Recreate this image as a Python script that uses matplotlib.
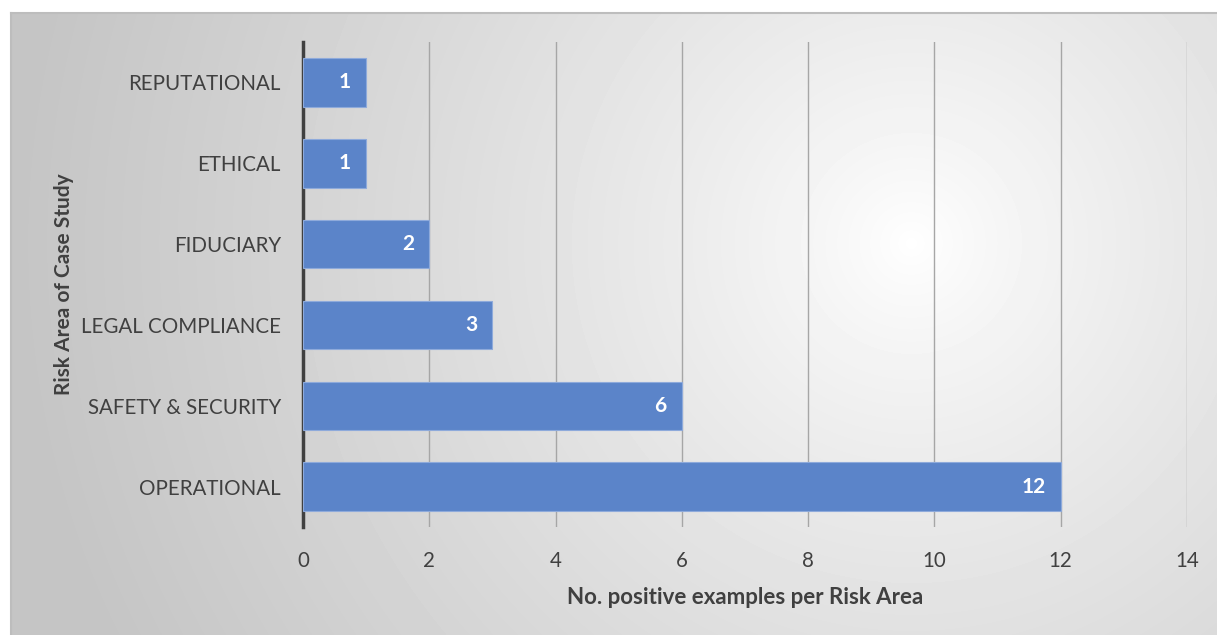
import numpy as np
import matplotlib
matplotlib.use("Agg")
import matplotlib.pyplot as plt

# data (bottom to top as drawn)
categories = ["OPERATIONAL", "SAFETY & SECURITY", "LEGAL COMPLIANCE",
              "FIDUCIARY", "ETHICAL", "REPUTATIONAL"]
counts = [12, 6, 3, 2, 1, 1]
x_ticks = [0, 2, 4, 6, 8, 10, 12, 14]

plt.rcParams['font.family'] = ['Lato', 'DejaVu Sans']
txt_color = '#404040'
bar_color = '#5b84c9'

W, H = 1217, 635
fig = plt.figure(figsize=(W / 100, H / 100), dpi=100)
fig.patch.set_facecolor('white')

# radial gradient panel behind the chart
px0, py0 = 11, 13
bg = fig.add_axes([px0 / W, 0, 1 - px0 / W, (H - py0) / H])
bg.set_zorder(0)
gw, gh = W - px0, H - py0
yy, xx = np.mgrid[0:gh, 0:gw]
cx, cy = 900, 230
dist = np.sqrt((xx - cx) ** 2 + (yy - cy) ** 2)
r = np.clip(dist / 900, 0, 1)
shade = 1.0 - 0.23 * r ** 0.8
bg.imshow(shade, cmap='gray', vmin=0, vmax=1, aspect='auto',
          extent=[0, gw, gh, 0], interpolation='bilinear')
bg.set_xlim(0, gw)
bg.set_ylim(gh, 0)
bg.set_xticks([])
bg.set_yticks([])
for side in ['right', 'bottom']:
    bg.spines[side].set_visible(False)
for side in ['top', 'left']:
    bg.spines[side].set_color('#bdbdbd')
    bg.spines[side].set_linewidth(1.5)

ax = fig.add_axes([303 / W, 1 - 527 / H, (1187 - 303) / W, (527 - 42) / H])
ax.set_zorder(1)
ax.set_facecolor('none')

y = np.arange(len(categories))
bars = ax.barh(y, counts, height=0.6, color=bar_color,
               edgecolor='#8eaadb', linewidth=0.8, zorder=3)
for b, v in zip(bars, counts):
    ax.annotate(str(v), (b.get_width(), b.get_y() + b.get_height() / 2),
                xytext=(-11, 0), textcoords='offset points',
                ha='right', va='center', color='white',
                fontsize=15, fontweight='bold', zorder=4)

ax.set_xlim(0, 14)
ax.set_ylim(-0.5, len(categories) - 0.5)
ax.set_xticks(x_ticks)
ax.set_yticks(y)
ax.set_yticklabels(categories)
ax.xaxis.grid(True, color='#a6a6a6', linewidth=1.0, zorder=0)
ax.set_axisbelow(True)
ax.tick_params(axis='both', length=0, labelsize=14.8, colors=txt_color)
ax.tick_params(axis='x', pad=17)
ax.tick_params(axis='y', pad=16)

for side in ['top', 'right', 'bottom']:
    ax.spines[side].set_visible(False)
ax.spines['left'].set_color('#404040')
ax.spines['left'].set_linewidth(2.5)

ax.set_xlabel("No. positive examples per Risk Area", fontsize=16,
              fontweight='bold', color=txt_color, labelpad=12)
ax.set_ylabel("Risk Area of Case Study", fontsize=15,
              fontweight='bold', color=txt_color, labelpad=5)

fig.savefig("out.png", dpi=100)
